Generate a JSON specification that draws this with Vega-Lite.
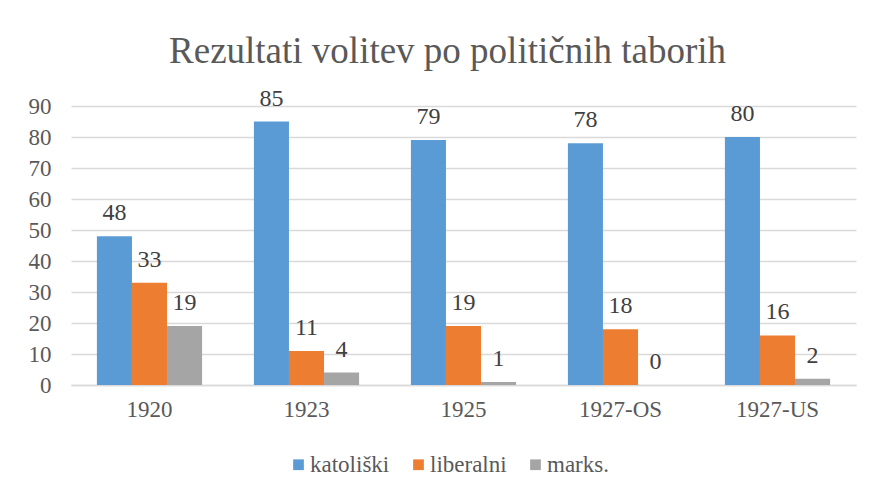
{
  "$schema": "https://vega.github.io/schema/vega-lite/v6.json",
  "width": 785,
  "height": 279,
  "autosize": {"type": "none"},
  "padding": {"left": 71, "top": 106, "right": 16, "bottom": 110},
  "background": "white",
  "config": {
    "font": "Liberation Serif, DejaVu Serif, serif",
    "view": {"stroke": null}
  },
  "title": {
    "text": "Rezultati volitev po političnih taborih",
    "font": "Liberation Serif, DejaVu Serif, serif",
    "fontSize": 37,
    "fontWeight": "normal",
    "color": "#595959",
    "anchor": "middle",
    "frame": "group",
    "offset": 16,
    "dx": -16
  },
  "data": {
    "values": [
      {"year": "1920", "party": "katoliški", "value": 48},
      {"year": "1920", "party": "liberalni", "value": 33},
      {"year": "1920", "party": "marks.", "value": 19},
      {"year": "1923", "party": "katoliški", "value": 85},
      {"year": "1923", "party": "liberalni", "value": 11},
      {"year": "1923", "party": "marks.", "value": 4},
      {"year": "1925", "party": "katoliški", "value": 79},
      {"year": "1925", "party": "liberalni", "value": 19},
      {"year": "1925", "party": "marks.", "value": 1},
      {"year": "1927-OS", "party": "katoliški", "value": 78},
      {"year": "1927-OS", "party": "liberalni", "value": 18},
      {"year": "1927-OS", "party": "marks.", "value": 0},
      {"year": "1927-US", "party": "katoliški", "value": 80},
      {"year": "1927-US", "party": "liberalni", "value": 16},
      {"year": "1927-US", "party": "marks.", "value": 2}
    ]
  },
  "encoding": {
    "x": {
      "field": "year", "type": "nominal", "sort": null,
      "scale": {"paddingInner": 0.33, "paddingOuter": 0.165},
      "axis": {"title": null, "labelAngle": 0, "ticks": false, "domain": true, "domainColor": "#D9D9D9", "domainWidth": 1.5, "labelPadding": 13, "labelFont": "Liberation Serif, DejaVu Serif, serif", "labelFontSize": 23, "labelColor": "#595959"}
    },
    "xOffset": {"field": "party", "type": "nominal", "sort": ["katoliški", "liberalni", "marks."], "scale": {"paddingInner": 0, "paddingOuter": 0}},
    "y": {
      "field": "value", "type": "quantitative",
      "scale": {"domain": [0, 90], "nice": false},
      "axis": {"title": null, "values": [0,10,20,30,40,50,60,70,80,90], "domain": false, "ticks": false, "gridColor": "#D9D9D9", "gridWidth": 1.5, "labelPadding": 20, "labelFont": "Liberation Serif, DejaVu Serif, serif", "labelFontSize": 23, "labelColor": "#595959"}
    }
  },
  "layer": [
    {
      "mark": {"type": "bar"},
      "encoding": {
        "color": {
          "field": "party", "type": "nominal",
          "sort": ["katoliški", "liberalni", "marks."],
          "scale": {"domain": ["katoliški", "liberalni", "marks."], "range": ["#5B9BD5", "#ED7D31", "#A5A5A5"]},
          "legend": {
            "title": null, "orient": "none", "direction": "horizontal",
            "legendX": 216, "legendY": 347,
            "symbolType": "square", "symbolSize": 115, "symbolStrokeWidth": 0,
            "labelFont": "Liberation Serif, DejaVu Serif, serif", "labelFontSize": 23, "labelColor": "#595959",
            "columnPadding": 17, "labelOffset": 0
          }
        }
      }
    },
    {
      "mark": {"type": "text", "baseline": "alphabetic", "dy": -16, "fontSize": 24, "color": "#404040", "font": "Liberation Serif, DejaVu Serif, serif"},
      "encoding": {"text": {"field": "value", "type": "quantitative"}}
    }
  ]
}
